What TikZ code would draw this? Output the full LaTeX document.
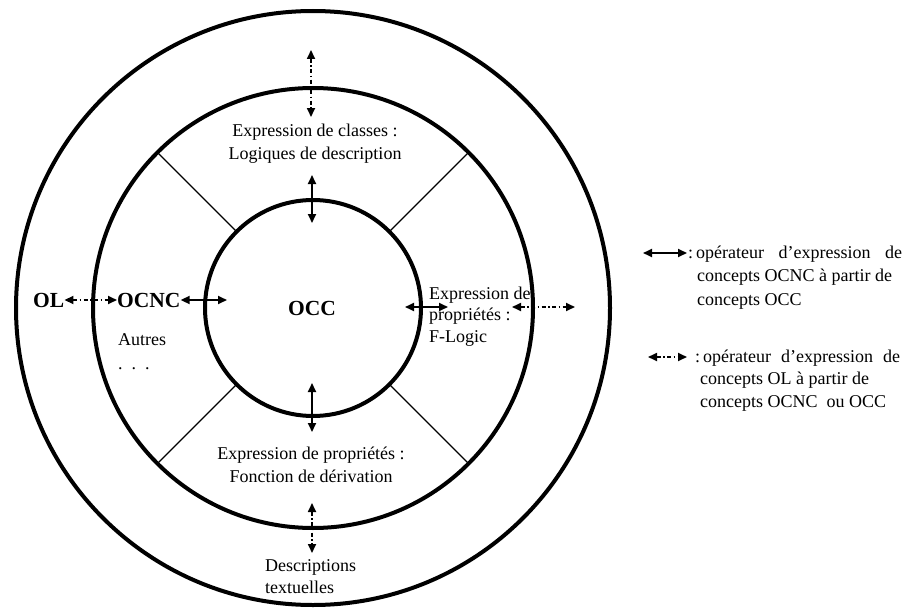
\documentclass[tikz,border=0pt]{standalone}
\usepackage{fontspec}
\setmainfont{Liberation Serif}
\usetikzlibrary{arrows.meta}
\begin{document}
\begin{tikzpicture}[x=1pt,y=-1pt,
  ring/.style={draw, circle, line width=4pt, inner sep=0pt, outer sep=0pt},
  spoke/.style={line width=1.2pt},
  occarrow/.style={line width=2pt,
    arrows={Triangle[length=9pt,width=8pt]-Triangle[length=9pt,width=8pt]}},
  olarrow/.style={line width=1.7pt, dash pattern=on 4pt off 2.5pt on 1.5pt off 2.5pt,
    arrows={Triangle[length=9pt,width=8pt]-Triangle[length=9pt,width=8pt]}},
  txt/.style={inner sep=0pt, font=\fontsize{18}{23}\selectfont},
  bigtxt/.style={inner sep=0pt, font=\fontsize{21.5}{24}\selectfont\bfseries},
]
\fill[white] (0,0) rectangle (905,610);
\useasboundingbox (0,0) rectangle (905,610);

% three concentric rings
\node[ring, minimum size=594pt] (outer) at (313,308) {};
\node[ring, minimum size=440pt] (middle) at (313,308) {};
\node[ring, minimum size=216pt] (inner) at (313,308) {};

% sector separators of the middle ring
\draw[spoke] (inner.135) -- (middle.135);
\draw[spoke] (inner.45)  -- (middle.45);
\draw[spoke] (inner.225) -- (middle.225);
\draw[spoke] (inner.315) -- (middle.315);

% labels (base anchor = baseline of the last line)
\node[bigtxt] (occ) at (312,308) {OCC};
\node[bigtxt, anchor=west] (ol) at (33,300) {OL};
\node[bigtxt, anchor=west] (ocnc) at (117,300) {OCNC};
\node[txt, anchor=base west] (autres) at (118,345) {Autres};
\node[txt, anchor=base west] (dots) at (118,369) {.\ \ .\ \ .};

\node[txt, align=center, anchor=base] (cls) at (315,159)
  {Expression de classes~:\\Logiques de description};
\node[txt, align=center, anchor=base] (prop) at (311,482)
  {Expression de propriétés :\\Fonction de dérivation};
\node[txt, font=\fontsize{18}{21.5}\selectfont, align=left, anchor=base west] (flog) at (429,342)
  {Expression de\\propriétés :\\F-Logic};
\node[txt, font=\fontsize{18}{22}\selectfont, align=left, anchor=base west] (desc) at (265,593)
  {Descriptions\\textuelles};

% arrow end points
\coordinate (ocncR) at (227,300);
\coordinate (topA) at (312,175);  \coordinate (topB) at (312,223);
\coordinate (topC) at (311,50);   \coordinate (topD) at (311,117);
\coordinate (botA) at (312,383);  \coordinate (botB) at (312,432);
\coordinate (botC) at (312,503);  \coordinate (botD) at (312,553);
\coordinate (rgtA) at (405,307);  \coordinate (rgtB) at (448,307);
\coordinate (rgtC) at (512,307);  \coordinate (rgtD) at (575,307);

% operators between rings
\draw[olarrow]  (ol.east) -- (ocnc.west);
\draw[occarrow] (ocnc.east) -- (ocncR);
\draw[occarrow] (topA) -- (topB);
\draw[olarrow]  (topC) -- (topD);
\draw[occarrow] (botA) -- (botB);
\draw[olarrow]  (botC) -- (botD);
\draw[occarrow] (rgtA) -- (rgtB);
\draw[olarrow]  (rgtC) -- (rgtD);

% legend
\coordinate (lg1a) at (643,253); \coordinate (lg1b) at (687,253);
\coordinate (lg2a) at (648,357); \coordinate (lg2b) at (687,357);
\draw[occarrow] (lg1a) -- (lg1b);
\draw[olarrow]  (lg2a) -- (lg2b);
\node[txt, font=\fontsize{18}{23.5}\selectfont, align=left, anchor=base west] (leg1) at (688,305)
  {\makebox[214pt][s]{:\kern3pt opérateur d'expression de}\\\hspace*{9pt}concepts OCNC à partir de\\\hspace*{9pt}concepts OCC};
\node[txt, font=\fontsize{18}{22.5}\selectfont, align=left, anchor=base west] (leg2) at (695,407)
  {\makebox[205pt][s]{:\kern3pt opérateur d'expression de}\\\hspace*{5pt}concepts OL à partir de\\\hspace*{5pt}concepts OCNC~ ou OCC};
\end{tikzpicture}
\end{document}
